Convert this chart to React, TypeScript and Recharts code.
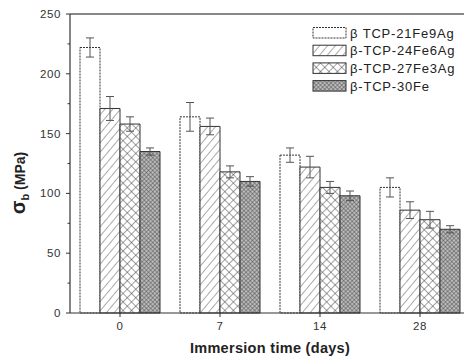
import React from 'react';
import { BarChart, Bar, XAxis, YAxis, ErrorBar, ReferenceLine } from 'recharts';

const categories = ['0', '7', '14', '28'];
const seriesNames = ['β TCP-21Fe9Ag', 'β-TCP-24Fe6Ag', 'β-TCP-27Fe3Ag', 'β-TCP-30Fe'];
const s1 = [222, 164, 132, 105];
const e1 = [8, 12, 6, 8];
const s2 = [171, 156, 122, 86];
const e2 = [10, 7, 9, 7];
const s3 = [158, 118, 105, 78];
const e3 = [6, 5, 5, 7];
const s4 = [135, 110, 98, 70];
const e4 = [3, 4, 4, 3];
const yTicks = [0, 25, 50, 75, 100, 125, 150, 175, 200, 225, 250];

const data = categories.map((c, i) => ({
  cat: c,
  a: s1[i], ea: e1[i],
  b: s2[i], eb: e2[i],
  c: s3[i], ec: e3[i],
  d: s4[i], ed: e4[i],
}));

const FONT = '"Liberation Sans", Arial, sans-serif';
const fills = ['url(#p1)', 'url(#p2)', 'url(#p3)', 'url(#p4)'];

const Patterns = () => (
  <defs>
    <pattern id="p1" patternUnits="userSpaceOnUse" width="6" height="6">
      <rect width="6" height="6" fill="#fff" />
    </pattern>
    <pattern id="p2" patternUnits="userSpaceOnUse" width="6" height="6" patternTransform="rotate(40)">
      <rect width="6" height="6" fill="#fff" />
      <line x1="0" y1="0" x2="0" y2="6" stroke="#555" strokeWidth="1" />
    </pattern>
    <pattern id="p3" patternUnits="userSpaceOnUse" width="6" height="6" patternTransform="rotate(45)">
      <rect width="6" height="6" fill="#fff" />
      <line x1="0" y1="0" x2="0" y2="6" stroke="#444" strokeWidth="1" />
      <line x1="0" y1="0" x2="6" y2="0" stroke="#444" strokeWidth="1" />
    </pattern>
    <pattern id="p4" patternUnits="userSpaceOnUse" width="3" height="3" patternTransform="rotate(45)">
      <rect width="3" height="3" fill="#bbb" />
      <line x1="0" y1="0" x2="0" y2="3" stroke="#444" strokeWidth="0.9" />
      <line x1="0" y1="0" x2="3" y2="0" stroke="#444" strokeWidth="0.9" />
    </pattern>
  </defs>
);

const YTick = (props: any) => {
  const { y, payload } = props;
  const v = payload.value;
  const major = v % 50 === 0;
  return (
    <g>
      <line x1={major ? 66 : 67.5} x2={70} y1={y} y2={y} stroke="#333" strokeWidth={1} />
      {major && (
        <text x={61} y={y} dy={4} textAnchor="end" fontSize={11.5} letterSpacing={0.6} fill="#333" fontFamily={FONT}>
          {v}
        </text>
      )}
    </g>
  );
};

const LegendBox = () => (
  <svg width={150} height={76} style={{ position: 'absolute', left: 312, top: 27 }}>
    {seriesNames.map((n, i) => (
      <g key={n} transform={`translate(0, ${i * 17.7})`}>
        <rect x={1} y={0.5} width={33} height={10.5} fill={fills[i]} stroke="#333" strokeWidth={1}
          strokeDasharray={i === 0 ? '2 1' : undefined} />
        <text x={38} y={10.5} fontSize={13} letterSpacing={0.8} fill="#222" fontFamily={FONT}>{n}</text>
      </g>
    ))}
  </svg>
);

const YLabel = () => (
  <text transform="translate(25, 183) rotate(-90)" textAnchor="middle" fontFamily={FONT} fontWeight="bold" fill="#222">
    <tspan fontSize={20}>σ</tspan>
    <tspan fontSize={11} dy={4}>b</tspan>
    <tspan fontSize={14} dy={-4}> (MPa)</tspan>
  </text>
);

export default function App() {
  return (
    <div style={{ position: 'absolute', left: 0, top: 0, width: 464, height: 360, overflow: 'hidden', background: '#fff' }}>
      <BarChart
        width={480}
        height={360}
        data={data}
        margin={{ top: 14, right: 10, left: 10, bottom: 17 }}
        barCategoryGap="10%"
        barGap={0}
      >
        <Patterns />
        <XAxis
          dataKey="cat"
          axisLine={{ stroke: '#333', strokeWidth: 1.2 }}
          tickLine={{ stroke: '#333' }}
          tickSize={4}
          tickMargin={5}
          height={30}
          tick={{ fontSize: 11.5, fill: '#333', fontFamily: FONT, letterSpacing: 0.6 }}
          label={{ value: 'Immersion time (days)', position: 'insideBottom', offset: -10, fontSize: 14.5, fontWeight: 'bold', fill: '#222', fontFamily: FONT, letterSpacing: 0.3 }}
        />
        <YAxis
          width={60}
          domain={[0, 250]}
          ticks={yTicks}
          interval={0}
          axisLine={{ stroke: '#333', strokeWidth: 1.2 }}
          tickLine={false}
          tick={<YTick />}
          label={{ content: () => <YLabel /> }}
        />
        <ReferenceLine y={250} stroke="#888" strokeWidth={2} />
        <Bar dataKey="a" fill="url(#p1)" stroke="#333" strokeWidth={1} strokeDasharray="2 1" isAnimationActive={false}>
          <ErrorBar dataKey="ea" width={4} stroke="#555" strokeWidth={1} />
        </Bar>
        <Bar dataKey="b" fill="url(#p2)" stroke="#333" strokeWidth={1} isAnimationActive={false}>
          <ErrorBar dataKey="eb" width={4} stroke="#555" strokeWidth={1} />
        </Bar>
        <Bar dataKey="c" fill="url(#p3)" stroke="#333" strokeWidth={1} isAnimationActive={false}>
          <ErrorBar dataKey="ec" width={4} stroke="#555" strokeWidth={1} />
        </Bar>
        <Bar dataKey="d" fill="url(#p4)" stroke="#333" strokeWidth={1} isAnimationActive={false}>
          <ErrorBar dataKey="ed" width={4} stroke="#555" strokeWidth={1} />
        </Bar>
      </BarChart>
      <LegendBox />
    </div>
  );
}
